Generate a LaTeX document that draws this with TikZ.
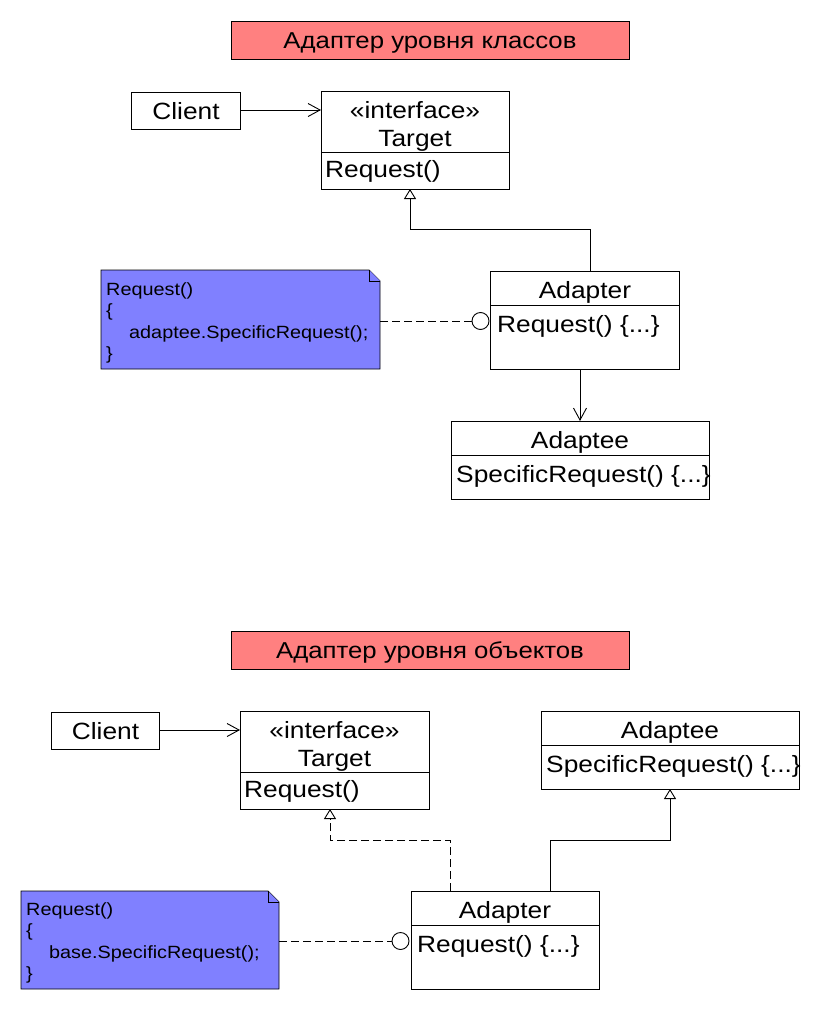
\documentclass[tikz,border=0pt]{standalone}
\usepackage{fontspec}
\setmainfont[FakeStretch=1.12]{Liberation Sans}
\usetikzlibrary{arrows.meta}
\definecolor{titlered}{HTML}{FF8080}
\definecolor{noteblue}{HTML}{8080FF}
\tikzset{
  box/.style={draw=black, line width=0.9pt, fill=white},
  titlebox/.style={draw=black, line width=0.9pt, fill=titlered},
  bigtxt/.style={font=\fontsize{23.5}{27}\selectfont, inner sep=0pt},
  titletxt/.style={font=\fontsize{23}{27}\selectfont, inner sep=0pt, anchor=base},
  notetxt/.style={font=\fontsize{17.7}{21}\selectfont, inner sep=0pt, anchor=base west},
  conn/.style={draw=black, line width=0.9pt},
  assoc/.style={conn, -{Straight Barb[length=12pt,width=13pt,line width=0.9pt]}},
  gen/.style={conn, -{Triangle[open,length=10pt,width=12pt,line width=0.9pt,fill=white]}},
  dsh/.style={dash pattern=on 8pt off 4pt},
  lolli/.style={circle, draw=black, line width=0.9pt, fill=white, minimum size=17pt, inner sep=0pt},
}
\begin{document}
\begin{tikzpicture}[x=1pt,y=-1pt]
\useasboundingbox (0,0) rectangle (820,1020);

% ================= TOP: class level =================
\draw[titlebox] (231,21) rectangle (629,59);
\node[titletxt] (t1) at (430,48.5) {Адаптер уровня классов};

% Client
\draw[box] (131,92) rectangle (240,129);
\node[bigtxt, anchor=base] (client1) at (186,119.3) {Client};
\coordinate (client1r) at (240,110);

% Target
\draw[box] (321,91) rectangle (509,189);
\draw[conn] (321,152) -- (509,152);
\node[bigtxt, anchor=base] (tg1a) at (415,118.3) {«interface»};
\node[bigtxt, anchor=base] (tg1b) at (415,146) {Target};
\node[bigtxt, anchor=base west] (tg1c) at (325,177.5) {Request()};
\coordinate (target1l) at (321,110);
\coordinate (target1b) at (410,189);

% Adapter
\draw[box] (490,271) rectangle (679,369);
\draw[conn] (490,305) -- (679,305);
\node[bigtxt, anchor=base] (ad1a) at (585,298.7) {Adapter};
\node[bigtxt, anchor=base west] (ad1b) at (497,332.5) {Request() \{...\}};
\coordinate (adapter1t) at (590,271);
\coordinate (adapter1b) at (580,369);

% Adaptee
\draw[box] (451,421) rectangle (709,499);
\draw[conn] (451,455) -- (709,455);
\node[bigtxt, anchor=base] (ae1a) at (580,448.5) {Adaptee};
\node[bigtxt, anchor=base west] (ae1b) at (456,482.5) {SpecificRequest() \{...\}};
\coordinate (adaptee1t) at (580,421);

% Note
\draw[conn, fill=noteblue] (101,270) -- (369,270) -- (380,281) -- (380,369) -- (101,369) -- cycle;
\draw[conn, fill=noteblue] (369,270) -- (369,281) -- (380,281);
\node[notetxt] (n1a) at (106,295) {Request()};
\node[notetxt] (n1b) at (106,316.5) {\{};
\node[notetxt] (n1c) at (129,338) {adaptee.SpecificRequest();};
\node[notetxt] (n1d) at (106,359.5) {\}};
\coordinate (note1r) at (380,321);
\node[lolli] (circ1) at (480.5,321) {};

% Connectors
\draw[assoc] (client1r) -- (target1l);
\draw[gen] (adapter1t) -- (590,229) -- (410,229) -- (target1b);
\draw[assoc] (adapter1b) -- (adaptee1t);
\draw[conn, dsh] (note1r) -- (circ1.west);

% ================= BOTTOM: object level =================
\draw[titlebox] (231,631) rectangle (629,669);
\node[titletxt] (t2) at (430,658) {Адаптер уровня объектов};

% Client
\draw[box] (51,712) rectangle (159,749);
\node[bigtxt, anchor=base] (client2) at (105.5,739.3) {Client};
\coordinate (client2r) at (159,730);

% Target
\draw[box] (240,711) rectangle (429,809);
\draw[conn] (240,772) -- (429,772);
\node[bigtxt, anchor=base] (tg2a) at (334.5,738.3) {«interface»};
\node[bigtxt, anchor=base] (tg2b) at (334.5,766) {Target};
\node[bigtxt, anchor=base west] (tg2c) at (244,797.5) {Request()};
\coordinate (target2l) at (240,730);
\coordinate (target2b) at (330,809);

% Adaptee
\draw[box] (541,711) rectangle (799,789);
\draw[conn] (541,745) -- (799,745);
\node[bigtxt, anchor=base] (ae2a) at (670,738.5) {Adaptee};
\node[bigtxt, anchor=base west] (ae2b) at (546,772.5) {SpecificRequest() \{...\}};
\coordinate (adaptee2b) at (670,789);

% Adapter
\draw[box] (411,891) rectangle (599,989);
\draw[conn] (411,925) -- (599,925);
\node[bigtxt, anchor=base] (ad2a) at (505,918.7) {Adapter};
\node[bigtxt, anchor=base west] (ad2b) at (417,952.5) {Request() \{...\}};
\coordinate (adapter2tl) at (450,891);
\coordinate (adapter2tr) at (550,891);

% Note
\draw[conn, fill=noteblue] (21,891) -- (268,891) -- (279,902) -- (279,989) -- (21,989) -- cycle;
\draw[conn, fill=noteblue] (268,891) -- (268,902) -- (279,902);
\node[notetxt] (n2a) at (26,915) {Request()};
\node[notetxt] (n2b) at (26,936.5) {\{};
\node[notetxt] (n2c) at (49,958) {base.SpecificRequest();};
\node[notetxt] (n2d) at (26,979.5) {\}};
\coordinate (note2r) at (279,941);
\node[lolli] (circ2) at (400.5,941) {};

% Connectors
\draw[assoc] (client2r) -- (target2l);
\draw[gen, dsh] (adapter2tl) -- (450,840) -- (330,840) -- (target2b);
\draw[gen] (adapter2tr) -- (550,840) -- (670,840) -- (adaptee2b);
\draw[conn, dsh] (note2r) -- (circ2.west);
\end{tikzpicture}
\end{document}
